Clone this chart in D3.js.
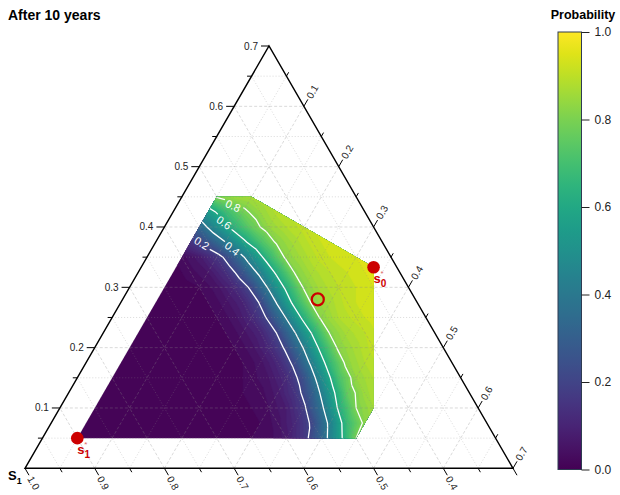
<!DOCTYPE html>
<html>
<head>
<meta charset="utf-8">
<script src="https://cdn.jsdelivr.net/npm/d3@7"></script>
<style>
  body { margin: 0; background: #fff; }
  text { font-family: "Liberation Sans", Arial, sans-serif; }
</style>
</head>
<body>
<script>
var width = 620,
    height = 495;

// probability grid
// rows: third share (C) 0.05 .. 0.45, columns: second share (B) 0.05 .. 0.45, step 0.025
var gridStart = 0.05, gridStep = 0.025;
var probRows = [
  [0,0,0,0,0,0,0,0,0,0,0.02,0.03,0.07,0.16,0.32,0.55,0.80],
  [0,0,0,0,0,0,0,0,0,0.01,0.02,0.05,0.11,0.22,0.43,0.68,0.82],
  [0,0,0,0,0,0,0,0,0.01,0.02,0.04,0.08,0.18,0.37,0.62,0.80,0.86],
  [0,0,0,0,0,0,0,0,0.02,0.03,0.07,0.15,0.30,0.54,0.76,0.85,0.89],
  [0,0,0,0,0,0,0,0.01,0.03,0.06,0.12,0.25,0.48,0.71,0.84,0.88,0.91],
  [0,0,0,0,0,0,0.01,0.02,0.05,0.11,0.23,0.44,0.67,0.83,0.88,0.91,0.93],
  [0,0,0,0,0,0.01,0.02,0.05,0.11,0.22,0.41,0.64,0.82,0.87,0.91,0.93,0.94],
  [0,0,0,0,0.01,0.02,0.05,0.10,0.21,0.40,0.62,0.81,0.87,0.90,0.93,0.94,0.95],
  [0,0,0,0.01,0.02,0.05,0.11,0.22,0.41,0.64,0.82,0.88,0.91,0.93,0.94,0.95,0.96],
  [0,0,0.01,0.02,0.05,0.10,0.21,0.42,0.65,0.82,0.87,0.91,0.93,0.94,0.95,0.96,0.96],
  [0,0.01,0.02,0.05,0.11,0.22,0.42,0.63,0.81,0.87,0.90,0.92,0.94,0.95,0.96,0.96,0.96],
  [0.01,0.03,0.06,0.13,0.26,0.44,0.64,0.81,0.87,0.90,0.92,0.94,0.95,0.96,0.96,0.96,0.96],
  [0.03,0.07,0.15,0.29,0.48,0.67,0.82,0.87,0.91,0.93,0.94,0.95,0.96,0.96,0.96,0.96,0.96],
  [0.15,0.26,0.40,0.57,0.71,0.82,0.87,0.91,0.93,0.94,0.95,0.96,0.96,0.96,0.96,0.96,0.96],
  [0.33,0.49,0.65,0.76,0.84,0.88,0.91,0.93,0.94,0.95,0.96,0.96,0.96,0.96,0.96,0.96,0.96],
  [0.54,0.68,0.78,0.84,0.89,0.91,0.93,0.94,0.95,0.96,0.96,0.96,0.96,0.96,0.96,0.96,0.96],
  [0.81,0.85,0.87,0.89,0.91,0.93,0.94,0.95,0.96,0.96,0.96,0.96,0.96,0.96,0.96,0.96,0.96]
];

var contourLevels = [0.2, 0.4, 0.6, 0.8];
// where the contour labels sit (B, C) and their tilt
var contourLabels = [
  {v: '0.2', b: 0.067, c: 0.373, rot: 30},
  {v: '0.4', b: 0.115, c: 0.364, rot: 38},
  {v: '0.6', b: 0.082, c: 0.407, rot: 35},
  {v: '0.8', b: 0.081, c: 0.435, rot: 25}
];

// area that carries values: corners in (B, C)
var regionCorners = [[0.05,0.05],[0.45,0.05],[0.45,0.10],[1/3,1/3],[0.10,0.45],[0.05,0.45]];

var gridValues = d3.range(0.05, 0.70, 0.05);
var leftTickLabels = ['0.1','0.2','0.3','0.4','0.5','0.6','0.7'];
var bottomTickLabels = ['1.0','0.9','0.8','0.7','0.6','0.5','0.4'];
var rightTickLabels = ['0.1','0.2','0.3','0.4','0.5','0.6','0.7'];
var legendTicks = [0, 0.2, 0.4, 0.6, 0.8, 1.0];

var markers = [
  {b: 0.05, c: 0.05, type: 'solid', sub: '1'},
  {b: 1/3, c: 1/3, type: 'solid', sub: '0'},
  {b: 0.28, c: 0.28, type: 'hollow'}
];

var svg = d3.select('body').append('svg')
    .attr('width', width)
    .attr('height', height);

// ternary -> screen, B along the base, C upwards
var x = d3.scaleLinear().domain([0, 0.7]).range([25, 513]),
    y = d3.scaleLinear().domain([0, 0.7]).range([468.3, 46]);
function px(b, c) { return x(b + c / 2); }
function py(b, c) { return y(c); }
function pt(b, c) { return [px(b, c), py(b, c)]; }

var color = d3.scaleSequential(d3.interpolateViridis).domain([0, 1]);

var defs = svg.append('defs');
defs.append('clipPath').attr('id', 'region')
  .append('polygon')
    .attr('points', regionCorners.map(function(d) { return pt(d[0], d[1]).join(','); }).join(' '));

// heat map through d3.contours on the grid
var nx = probRows[0].length, ny = probRows.length;
var values = [].concat.apply([], probRows);
var gridProj = d3.geoTransform({
  point: function(u, v) {
    var b = gridStart + (u - 0.5) * gridStep,
        c = gridStart + (v - 0.5) * gridStep;
    this.stream.point(px(b, c), py(b, c));
  }
});
var path = d3.geoPath(gridProj);

var bandStep = 0.02;
var bands = d3.contours().size([nx, ny]).thresholds(d3.range(0, 0.99, bandStep))(values);

svg.append('g')
    .attr('clip-path', 'url(#region)')
  .selectAll('path')
  .data(bands)
  .enter().append('path')
    .attr('d', path)
    .attr('fill', function(d) { return color(d.value + bandStep / 2); })
    .attr('stroke', function(d) { return color(d.value + bandStep / 2); })
    .attr('stroke-width', 0.5);

// gaps in the contour lines behind the labels
var mask = defs.append('mask').attr('id', 'labelgap');
mask.append('rect').attr('width', width).attr('height', height).attr('fill', '#fff');
mask.selectAll('.gap')
  .data(contourLabels)
  .enter().append('rect')
    .attr('x', -10).attr('y', -6).attr('width', 20).attr('height', 12)
    .attr('fill', '#000')
    .attr('transform', function(d) {
      return 'translate(' + pt(d.b, d.c) + ') rotate(' + d.rot + ')';
    });

svg.append('g')
    .attr('clip-path', 'url(#region)')
  .append('g')
    .attr('mask', 'url(#labelgap)')
  .selectAll('path')
  .data(d3.contours().size([nx, ny]).thresholds(contourLevels)(values))
  .enter().append('path')
    .attr('d', path)
    .attr('fill', 'none')
    .attr('stroke', '#fff')
    .attr('stroke-width', 1.3);

svg.selectAll('.clabel')
  .data(contourLabels)
  .enter().append('text')
    .attr('class', 'clabel')
    .attr('transform', function(d) {
      return 'translate(' + pt(d.b, d.c) + ') rotate(' + d.rot + ')';
    })
    .attr('text-anchor', 'middle')
    .attr('dy', '0.35em')
    .attr('fill', '#fff')
    .attr('font-size', 11)
    .text(function(d) { return d.v; });

// grid lines, on top of the colours
function isMajor(v) { return Math.abs(v * 10 - Math.round(v * 10)) < 1e-6; }
var gridLines = [];
gridValues.forEach(function(v) {
  gridLines.push({p: [pt(0, v), pt(0.7 - v, v)], major: isMajor(v)});   // C fixed
  gridLines.push({p: [pt(v, 0), pt(v, 0.7 - v)], major: isMajor(v)});   // B fixed
  gridLines.push({p: [pt(v, 0), pt(0, v)], major: isMajor(v)});         // A fixed
});
svg.append('g')
  .selectAll('line')
  .data(gridLines)
  .enter().append('line')
    .attr('x1', function(d) { return d.p[0][0]; })
    .attr('y1', function(d) { return d.p[0][1]; })
    .attr('x2', function(d) { return d.p[1][0]; })
    .attr('y2', function(d) { return d.p[1][1]; })
    .attr('stroke', '#8a8a8a')
    .attr('stroke-opacity', 0.4)
    .attr('stroke-width', 0.8)
    .attr('stroke-dasharray', function(d) { return d.major ? '3,2' : '1,2'; });

// triangle
svg.append('polygon')
    .attr('points', [pt(0, 0), pt(0.7, 0), pt(0, 0.7)].map(function(d) { return d.join(','); }).join(' '))
    .attr('fill', 'none')
    .attr('stroke', '#000')
    .attr('stroke-width', 1.4);

// axis ticks
var tickVals = d3.range(1, 15).map(function(i) { return i * 0.05; });
var cos60 = 0.5, sin60 = Math.sqrt(3) / 2;
var ticks = [];
tickVals.forEach(function(v) {
  var len = isMajor(v) ? 8 : 4.5;
  ticks.push({o: pt(0, v), d: [-1, 0], len: len});            // left, C
  ticks.push({o: pt(v, 0), d: [cos60, sin60], len: len});     // bottom, A = 1 - v
  ticks.push({o: pt(v, 0.7 - v), d: [cos60, -sin60], len: len}); // right, B
});
ticks.push({o: pt(0, 0), d: [cos60, sin60], len: 8});
svg.append('g')
  .selectAll('line')
  .data(ticks)
  .enter().append('line')
    .attr('x1', function(d) { return d.o[0]; })
    .attr('y1', function(d) { return d.o[1]; })
    .attr('x2', function(d) { return d.o[0] + d.d[0] * d.len; })
    .attr('y2', function(d) { return d.o[1] + d.d[1] * d.len; })
    .attr('stroke', '#000')
    .attr('stroke-width', 1);

var labelG = svg.append('g').attr('font-size', 10).attr('fill', '#222');

labelG.selectAll('.lt')
  .data(leftTickLabels)
  .enter().append('text')
    .attr('x', function(d) { return pt(0, +d)[0] - 11; })
    .attr('y', function(d) { return pt(0, +d)[1]; })
    .attr('dy', '0.35em')
    .attr('text-anchor', 'end')
    .text(function(d) { return d; });

labelG.selectAll('.bt')
  .data(bottomTickLabels)
  .enter().append('text')
    .attr('transform', function(d) {
      var o = pt(1 - d, 0);
      return 'translate(' + (o[0] + cos60 * 10) + ',' + (o[1] + sin60 * 10) + ') rotate(60)';
    })
    .attr('dy', '0.35em')
    .text(function(d) { return d; });

labelG.selectAll('.rt')
  .data(rightTickLabels)
  .enter().append('text')
    .attr('transform', function(d) {
      var o = pt(+d, 0.7 - d);
      return 'translate(' + (o[0] + cos60 * 10) + ',' + (o[1] - sin60 * 10) + ') rotate(-60)';
    })
    .attr('dy', '0.35em')
    .text(function(d) { return d; });

// corner axis name
svg.append('text')
    .attr('x', 8).attr('y', 480)
    .attr('font-size', 13).attr('font-weight', 'bold')
    .text('S')
  .append('tspan')
    .attr('dy', 4).attr('font-size', 9)
    .text('1');

// markers
var red = '#cc0000';
markers.forEach(function(m) {
  var p = pt(m.b, m.c);
  if (m.type === 'solid') {
    svg.append('circle').attr('cx', p[0]).attr('cy', p[1]).attr('r', 6.3).attr('fill', red);
    svg.append('text')
        .attr('x', p[0]).attr('y', p[1] + 16)
        .attr('fill', red).attr('font-size', 13).attr('font-weight', 'bold')
        .text('s')
      .append('tspan')
        .attr('dy', 4).attr('font-size', 10)
        .text(m.sub);
    svg.append('text')
        .attr('x', p[0] + 7).attr('y', p[1] + 9)
        .attr('fill', '#e06666').attr('font-size', 8)
        .text('*');
  } else {
    svg.append('circle').attr('cx', p[0]).attr('cy', p[1]).attr('r', 6)
        .attr('fill', 'none').attr('stroke', red).attr('stroke-width', 2.2);
  }
});

// title
svg.append('text')
    .attr('x', 8).attr('y', 19.5)
    .attr('font-size', 14).attr('font-weight', 'bold')
    .text('After 10 years');

// colour legend
var ly = d3.scaleLinear().domain([0, 1]).range([469.5, 32]);
var grad = defs.append('linearGradient').attr('id', 'legendgrad')
    .attr('x1', 0).attr('y1', 1).attr('x2', 0).attr('y2', 0);
grad.selectAll('stop')
  .data(d3.range(0, 1.0001, 0.05))
  .enter().append('stop')
    .attr('offset', function(d) { return d; })
    .attr('stop-color', function(d) { return color(d); });

svg.append('rect')
    .attr('x', 558).attr('y', ly(1))
    .attr('width', 23.5).attr('height', ly(0) - ly(1))
    .attr('fill', 'url(#legendgrad)')
    .attr('stroke', '#2f3b52')
    .attr('stroke-width', 1);

var lg = svg.append('g')
    .attr('transform', 'translate(581.5,0)')
    .call(d3.axisRight(ly).tickValues(legendTicks).tickFormat(d3.format('.1f')).tickSize(8).tickPadding(5));
lg.select('.domain').remove();
lg.selectAll('text').attr('font-size', 12).attr('fill', '#222').attr('font-family', '"Liberation Sans", Arial, sans-serif');
lg.selectAll('line').attr('stroke', '#222');

svg.append('text')
    .attr('x', 583).attr('y', 19)
    .attr('text-anchor', 'middle')
    .attr('font-size', 12.5).attr('font-weight', 'bold')
    .text('Probability');
</script>
</body>
</html>
